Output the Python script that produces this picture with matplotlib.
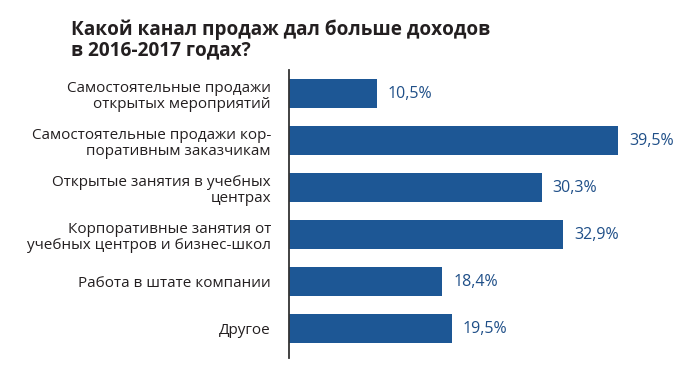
import matplotlib
matplotlib.use("Agg")
import matplotlib.pyplot as plt

title = "Какой канал продаж дал больше доходов\nв 2016-2017 годах?"
categories = [
    "Самостоятельные продажи\nоткрытых мероприятий",
    "Самостоятельные продажи кор-\nпоративным заказчикам",
    "Открытые занятия в учебных\nцентрах",
    "Корпоративные занятия от\nучебных центров и бизнес-школ",
    "Работа в штате компании",
    "Другое",
]
values = [10.5, 39.5, 30.3, 32.9, 18.4, 19.5]

bar_color = "#1d5795"
value_color = "#1f4f88"
text_color = "#231f20"

plt.rcParams["font.family"] = ["Open Sans", "DejaVu Sans"]

fig = plt.figure(figsize=(7, 3.71), dpi=100)
ax = fig.add_axes([289 / 700, 13 / 371, 375 / 700, 288 / 371])

pos = list(range(len(values)))
ax.barh(pos, values, height=0.61, color=bar_color)
ax.set_xlim(0, 45)
ax.set_ylim(5.62, -0.5)

for p, v in zip(pos, values):
    ax.text(v + 1.3, p, f"{v:.1f}%".replace(".", ","), va="center", ha="left",
            fontsize=11.5, color=value_color)

ax.set_yticks(pos)
ax.set_yticklabels(categories, fontsize=11, color=text_color, linespacing=1.12)
ax.tick_params(axis="y", length=0, pad=13)
ax.set_xticks([])
for s in ["top", "right", "bottom"]:
    ax.spines[s].set_visible(False)
ax.spines["left"].set_color("#333333")
ax.spines["left"].set_linewidth(1.3)

fig.text(71 / 700, 1 - 20 / 371, title, ha="left", va="top", fontsize=13.7,
         fontweight="bold", color=text_color, linespacing=1.0)

fig.savefig("out.png", dpi=100)
